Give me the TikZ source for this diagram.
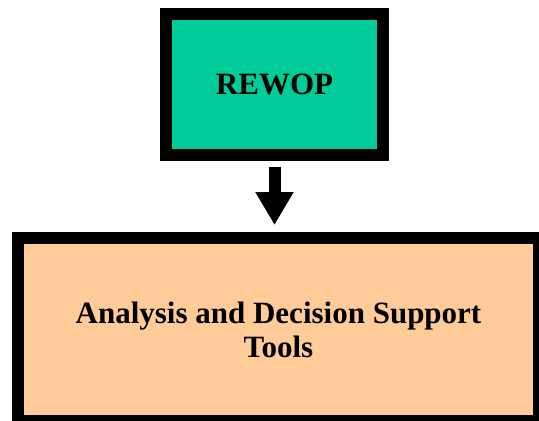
\documentclass[tikz,border=0pt]{standalone}
\usepackage{fontspec}
\setmainfont{Liberation Serif}
\usetikzlibrary{positioning, arrows.meta}
\definecolor{rewopgreen}{RGB}{0,204,153}
\definecolor{toolpeach}{RGB}{255,204,153}

\begin{document}
\begin{tikzpicture}[x=1pt, y=-1pt, line width=12pt
  ]
% Block and arrow styles
\tikzstyle{box} = [draw=black, align=center, text=black, font=\bfseries\fontsize{31}{34}\selectfont]
\tikzstyle{down} = [draw=black, -{Triangle[width=36pt,length=33pt]}, shorten <=6pt, shorten >=7pt]

\clip (0,0) rectangle (539,421);
% Blocks
\node[box, fill=rewopgreen, minimum width=217pt, minimum height=141pt] (rewop) at (274.5,84.5) {REWOP};
\node[box, fill=toolpeach, minimum width=521pt, minimum height=183pt, below=71pt of rewop, xshift=4pt, yshift=0pt] (tools) {Analysis and Decision Support\\Tools};

% Arrow
\draw[down] (rewop.south) -- (rewop.south |- tools.north);
\end{tikzpicture}
\end{document}
